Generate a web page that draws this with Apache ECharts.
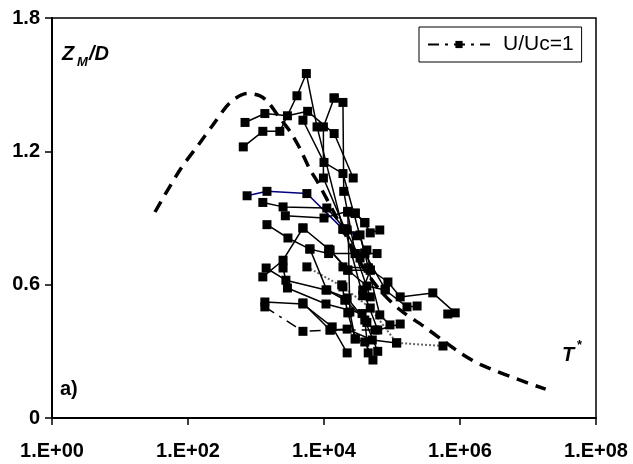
<!DOCTYPE html>
<html>
<head>
<meta charset="utf-8">
<script src="https://cdn.jsdelivr.net/npm/echarts@6/dist/echarts.min.js"></script>
<style>
  html, body { margin: 0; padding: 0; background: #fff; }
  #chart { width: 633px; height: 464px; }
</style>
</head>
<body>
<div id="chart"></div>
<script>
// axis ticks
const xTicks = [1, 1e2, 1e4, 1e6, 1e8];
const yTicks = [0, 0.6, 1.2, 1.8];

// theoretical curve (dashed)
const curve = [
  [32.7, 0.927], [76, 1.116], [151, 1.24], [234, 1.32], [417, 1.42], [741, 1.46],
  [1148, 1.45], [1514, 1.42], [2239, 1.35], [3162, 1.29], [4467, 1.21], [6166, 1.12],
  [8128, 1.06], [1.74e4, 0.87], [3.39e4, 0.70], [6.61e4, 0.576], [1.32e5, 0.486],
  [2.88e5, 0.414], [5.5e5, 0.351], [1.07e6, 0.288], [2.09e6, 0.238], [9.8e6, 0.158],
  [1.82e7, 0.13]
];

// experimental runs (T*, Zm/D)
const run01 = [[6.9e2, 1.33], [1.35e3, 1.37], [2.9e3, 1.36], [5.75e3, 1.38], [1.41e4, 1.28], [2.69e4, 1.08]];
const run02 = [[6.5e2, 1.22], [1.26e3, 1.29], [2.24e3, 1.29], [4.0e3, 1.45], [5.5e3, 1.55], [7.9e3, 1.31], [1.9e4, 0.85]];
const run03 = [[1.41e4, 1.44], [1.9e4, 1.42], [1.95e4, 1.02], [2.88e4, 0.74], [4.79e4, 0.545]];
const run04 = [[4.9e3, 1.34], [1.0e4, 1.15], [1.9e4, 1.10], [3.98e4, 0.74], [7.94e4, 0.58]];
const run05 = [[1.41e4, 1.44], [9.8e3, 1.31], [9.8e3, 1.08], [2.04e4, 0.85], [3.72e4, 0.55]];
const run06 = [[7.4e2, 1.00], [1.45e3, 1.02], [5.6e3, 1.01], [1.9e4, 0.85], [3.09e4, 0.82]];
const run07 = [[1.26e3, 0.97], [2.5e3, 0.95], [1.1e4, 0.945], [2.04e4, 0.85], [3.39e4, 0.72]];
const run08 = [[2.7e3, 0.91], [1.0e4, 0.90], [2.24e4, 0.93], [2.88e4, 0.92], [3.98e4, 0.88]];
const run09 = [[1.45e3, 0.87], [2.95e3, 0.81], [6.2e3, 0.76], [1.17e4, 0.74], [2.88e4, 0.74], [6.03e4, 0.74]];
const run10 = [[4.9e3, 0.855], [2.5e3, 0.71], [1.26e3, 0.635]];
const run11 = [[4.9e3, 0.855], [1.17e4, 0.76], [2.24e4, 0.665], [4.79e4, 0.665]];
const run12 = [[1.41e3, 0.675], [2.75e3, 0.62], [1.07e4, 0.576], [2.19e4, 0.54], [4.27e4, 0.43]];
const run13 = [[2.5e3, 0.675], [2.9e3, 0.585], [1.07e4, 0.513], [3.63e4, 0.47], [6.17e4, 0.30]];
const run14 = [[5.6e3, 0.68], [1.9e4, 0.59], [4.79e4, 0.495], [1.17e5, 0.338], [5.62e5, 0.324]];
const run15 = [[1.35e3, 0.522], [4.9e3, 0.513], [1.32e4, 0.41], [2.19e4, 0.293]];
const run16 = [[1.35e3, 0.50], [4.9e3, 0.39], [1.23e4, 0.396], [5.62e4, 0.396]];
const run17 = [[1.9e4, 0.68], [4.47e4, 0.675], [8.71e4, 0.612], [1.32e5, 0.545], [3.98e5, 0.563], [8.51e5, 0.473], [6.61e5, 0.468]];
const run18 = [[1.23e4, 0.756], [2.24e4, 0.666], [4.27e4, 0.594], [7.94e4, 0.576], [1.66e5, 0.50], [2.34e5, 0.504]];
const run19 = [[2.24e4, 0.927], [2.88e4, 0.923], [3.98e4, 0.878], [4.79e4, 0.833], [6.61e4, 0.846]];
const run20 = [[2.19e4, 0.846], [3.39e4, 0.824], [3.98e4, 0.743], [4.47e4, 0.675], [6.61e4, 0.464], [9.33e4, 0.419]];
const run21 = [[1.82e4, 0.599], [2.04e4, 0.531], [2.24e4, 0.473], [2.88e4, 0.356], [3.98e4, 0.342], [5.25e4, 0.261]];
const run22 = [[6.2e3, 0.761], [1.1e4, 0.576], [2.04e4, 0.531], [3.98e4, 0.441], [4.47e4, 0.293]];
const run23 = [[4.9e3, 0.518], [1.23e4, 0.396], [2.19e4, 0.40], [5.13e4, 0.351], [1.17e5, 0.338]];
const run24 = [[4.27e4, 0.756], [4.79e4, 0.666], [3.72e4, 0.576], [6.17e4, 0.396], [1.32e5, 0.423]];
const run25 = [[2.24e4, 0.927], [2.4e4, 0.477], [2.88e4, 0.356]];

const font = '"Liberation Sans", Arial, sans-serif';

function run(name, data, line) {
  return {
    name: name,
    type: 'line',
    data: data,
    z: 3,
    symbol: 'rect',
    symbolSize: 9,
    itemStyle: { color: '#000' },
    lineStyle: Object.assign({ color: '#000', width: 1.5 }, line || {}),
    silent: true
  };
}

const chart = echarts.init(document.getElementById('chart'));

const series = [
  {
    name: 'curve',
    type: 'line',
    data: curve,
    smooth: 0.3,
    showSymbol: false,
    z: 2,
    lineStyle: { color: '#000', width: 3.5, type: [12, 8] },
    silent: true
  },
  run('r01', run01), run('r02', run02), run('r03', run03), run('r04', run04),
  run('r05', run05),
  run('r06', run06, { color: '#000080' }),
  run('r07', run07), run('r08', run08), run('r09', run09), run('r10', run10),
  run('r11', run11), run('r12', run12), run('r13', run13),
  run('r14', run14, { color: '#666', type: 'dotted', width: 2 }),
  run('r15', run15),
  run('U/Uc=1', run16, { type: [11, 6, 3, 6] }),
  run('r17', run17), run('r18', run18), run('r19', run19), run('r20', run20),
  run('r21', run21), run('r22', run22), run('r23', run23), run('r24', run24),
  run('r25', run25)
];

chart.setOption({
  animation: false,
  backgroundColor: '#fff',
  grid: {
    left: 52, top: 18, right: 37, bottom: 46,
    show: true, borderColor: '#000', borderWidth: 1.5, backgroundColor: 'transparent'
  },
  legend: {
    data: ['U/Uc=1'],
    left: 419,
    top: 27,
    padding: [7, 8, 7, 8],
    itemWidth: 62,
    itemHeight: 9,
    borderColor: '#000',
    borderWidth: 1,
    backgroundColor: '#fff',
    textStyle: { fontFamily: font, fontSize: 21, color: '#000', padding: [0, 0, 0, 8] }
  },
  xAxis: {
    type: 'log',
    logBase: 10,
    min: xTicks[0],
    max: xTicks[xTicks.length - 1],
    interval: 2,
    splitLine: { show: false },
    axisLine: { lineStyle: { color: '#000', width: 2 } },
    axisTick: { length: 7, lineStyle: { color: '#000', width: 1.5 } },
    minorTick: { show: false },
    axisLabel: {
      margin: 23,
      fontFamily: font,
      fontSize: 20,
      fontWeight: 'bold',
      color: '#000',
      formatter: function (v) {
        const e = Math.round(Math.log10(v));
        return '1.E+' + (e < 10 ? '0' + e : e);
      }
    }
  },
  yAxis: {
    type: 'value',
    min: yTicks[0],
    max: yTicks[yTicks.length - 1],
    interval: 0.6,
    splitLine: { show: false },
    axisLine: { show: true, lineStyle: { color: '#000', width: 2 } },
    axisTick: { show: true, length: 7, lineStyle: { color: '#000', width: 1.5 } },
    axisLabel: {
      margin: 12,
      fontFamily: font,
      fontSize: 20,
      fontWeight: 'bold',
      color: '#000',
      formatter: function (v) { return v === 0 ? '0' : v.toFixed(1); }
    }
  },
  graphic: [
    { type: 'text', x: 62, y: 54, z: 10, style: { text: 'Z', font: 'italic bold 20px ' + font, fill: '#000', textVerticalAlign: 'middle', verticalAlign: 'middle' } },
    { type: 'text', x: 77, y: 62, z: 10, style: { text: 'M', font: 'italic bold 13px ' + font, fill: '#000', textVerticalAlign: 'middle', verticalAlign: 'middle' } },
    { type: 'text', x: 89, y: 54, z: 10, style: { text: '/D', font: 'italic bold 20px ' + font, fill: '#000', textVerticalAlign: 'middle', verticalAlign: 'middle' } },
    { type: 'text', x: 60, y: 389, z: 10, style: { text: 'a)', font: 'bold 20px ' + font, fill: '#000', textVerticalAlign: 'middle', verticalAlign: 'middle' } },
    { type: 'text', x: 562, y: 355, z: 10, style: { text: 'T', font: 'italic bold 20px ' + font, fill: '#000', textVerticalAlign: 'middle', verticalAlign: 'middle' } },
    { type: 'text', x: 577, y: 345, z: 10, style: { text: '*', font: 'bold 13px ' + font, fill: '#000', textVerticalAlign: 'middle', verticalAlign: 'middle' } }
  ],
  series: series
});
</script>
</body>
</html>
